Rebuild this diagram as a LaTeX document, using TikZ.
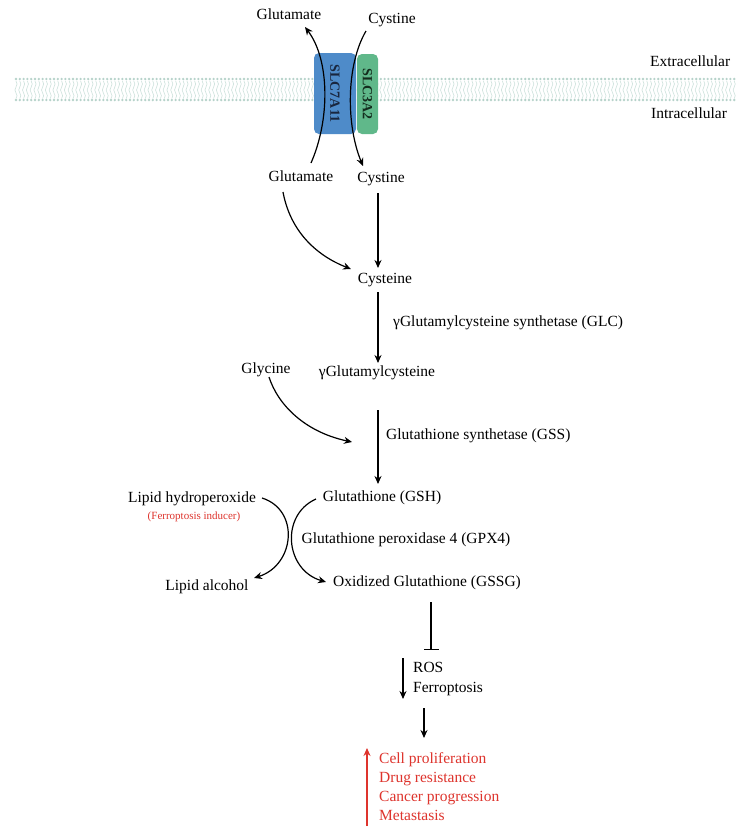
\documentclass[tikz,border=0pt]{standalone}
\usepackage{fontspec}
\setmainfont{Liberation Serif}
\usetikzlibrary{arrows.meta}
\definecolor{slcblue}{RGB}{78,139,201}
\definecolor{slcgreen}{RGB}{96,184,138}
\definecolor{redtxt}{RGB}{222,52,45}
\definecolor{headc}{RGB}{182,210,202}
\definecolor{tailc}{RGB}{205,226,220}
\begin{document}
\begin{tikzpicture}[x=1pt,y=-1pt,
  lbl/.style={inner sep=0pt, text height=10.5pt, text depth=3.5pt, font=\fontsize{15.5}{18}\selectfont},
  lblw/.style={lbl, anchor=west},
  redlbl/.style={lblw, text=redtxt},
  smallred/.style={inner sep=0pt, text height=7.5pt, text depth=2.5pt, text=redtxt, font=\fontsize{11}{13}\selectfont},
  arr/.style={line width=1.2pt, -{Stealth[length=8pt,width=7pt]}},
  inhib/.style={line width=1.2pt, -{Bar[width=15pt]}},
  slcbox/.style={rounded corners=5pt, draw=none, inner sep=0pt},
  slctext/.style={font=\fontsize{14}{16}\selectfont\bfseries, rotate=-90},
  head/.style={fill=headc, draw=none},
  tail/.style={draw=tailc, line width=0.6pt}
]
\useasboundingbox (0,0) rectangle (744,836);
\fill[white] (0,0) rectangle (744,836);

% membrane
\foreach \x in {16,19.8,...,736} {
  \draw[tail] (\x,81) .. controls +(1.4,2) and +(1.4,-2) .. (\x,87)
                      .. controls +(-1.4,2) and +(-1.4,-2) .. (\x,93)
                      .. controls +(1.4,2) and +(1.4,-2) .. (\x,98.5);
  \fill[head] (\x,79) circle (1.3);
  \fill[head] (\x,100) circle (1.3);
}

% transporters
\node[slcbox, fill=slcblue, minimum width=42pt, minimum height=81pt] (slc7) at (335,93.5) {};
\node[slcbox, fill=slcgreen, minimum width=21pt, minimum height=80pt] (slc3) at (367.5,94) {};
\node[slctext, text={rgb,255:red,25;green,38;blue,62}] (slc7t) at (slc7.center) {SLC7A11};
\node[slctext, text={rgb,255:red,20;green,45;blue,30}] (slc3t) at (slc3.center) {SLC3A2};

% labels
\node[lbl] (glutout) at (289,16) {Glutamate};
\node[lbl] (cysout) at (392,20) {Cystine};
\node[lblw] (extra) at (650,63) {Extracellular};
\node[lblw] (intra) at (651,115) {Intracellular};
\node[lbl] (glutin) at (301,178) {Glutamate};
\node[lbl] (cysin) at (381,179) {Cystine};
\node[lbl] (cysteine) at (385,280) {Cysteine};
\node[lblw] (glc) at (393,323) {γGlutamylcysteine synthetase (GLC)};
\node[lbl] (gamma) at (377,373) {γGlutamylcysteine};
\node[lbl] (glycine) at (266,370) {Glycine};
\node[lblw] (gss) at (386,436) {Glutathione synthetase (GSS)};
\node[lbl] (gsh) at (382,498) {Glutathione (GSH)};
\node[lbl] (lipidh) at (192,499) {Lipid hydroperoxide};
\node[smallred] (ferroind) at (194,517) {(Ferroptosis inducer)};
\node[lbl] (gpx) at (406,540) {Glutathione peroxidase 4 (GPX4)};
\node[lbl] (lipidalc) at (207,587) {Lipid alcohol};
\node[lbl] (gssg) at (427,583) {Oxidized Glutathione (GSSG)};
\node[lblw] (ros) at (413,669) {ROS};
\node[lblw] (ferro) at (413,689) {Ferroptosis};
\node[redlbl] (prolif) at (379,760) {Cell proliferation};
\node[redlbl] (drug) at (379,779) {Drug resistance};
\node[redlbl] (cancer) at (379,798) {Cancer progression};
\node[redlbl] (meta) at (379,817) {Metastasis};

% connector end points
\coordinate (e1s) at (311,163);
\coordinate (e1e) at (305,27);
\coordinate (e2s) at (366,31);
\coordinate (e2e) at (363,166);
\coordinate (c1s) at (378,193);
\coordinate (c1e) at (378,268);
\coordinate (g1s) at (283,192);
\coordinate (g1e) at (351,269);
\coordinate (c2s) at (378,292);
\coordinate (c2e) at (378,363);
\coordinate (y1s) at (269,377);
\coordinate (y1e) at (352,442);
\coordinate (c3s) at (378,410);
\coordinate (c3e) at (378,484);
\coordinate (h1s) at (316,499);
\coordinate (h1e) at (326,582);
\coordinate (l1s) at (262,498);
\coordinate (l1e) at (254,578);
\coordinate (i1s) at (431,602);
\coordinate (i1e) at (431,650);
\coordinate (r1s) at (403,658);
\coordinate (r1e) at (403,699);
\coordinate (r2s) at (424,708);
\coordinate (r2e) at (424,738);
\coordinate (u1s) at (367,826);
\coordinate (u1e) at (367,748);

% transport arrows
\draw[arr] (e1s) .. controls (330,120) and (330,60) .. (e1e);
\draw[arr] (e2s) .. controls (346,65) and (346,125) .. (e2e);

% pathway
\draw[arr] (c1s) -- (c1e);
\draw[arr] (g1s) .. controls (290,230) and (315,255) .. (g1e);
\draw[arr] (c2s) -- (c2e);
\draw[arr] (y1s) .. controls (278,405) and (305,432) .. (y1e);
\draw[arr] (c3s) -- (c3e);
\draw[arr] (h1s) .. controls (280,515) and (285,570) .. (h1e);
\draw[arr] (l1s) .. controls (300,510) and (295,565) .. (l1e);
\draw[inhib] (i1s) -- (i1e);
\draw[arr] (r1s) -- (r1e);
\draw[arr] (r2s) -- (r2e);
\draw[arr, draw=redtxt, fill=redtxt] (u1s) -- (u1e);
\end{tikzpicture}
\end{document}
